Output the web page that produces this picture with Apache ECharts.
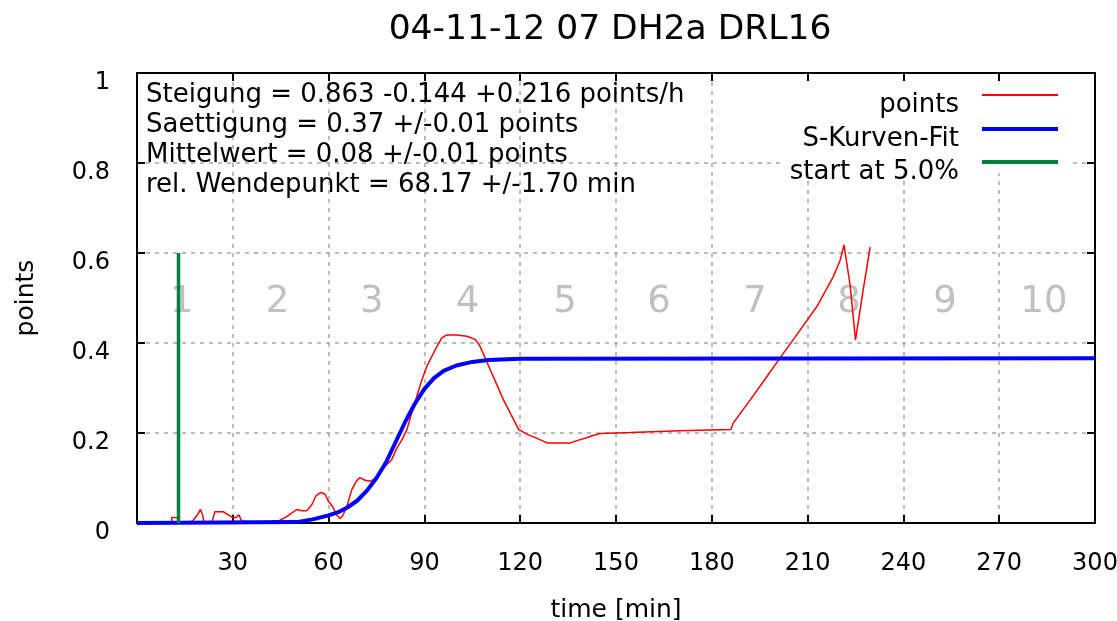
<!DOCTYPE html>
<html>
<head>
<meta charset="utf-8">
<script src="https://cdn.jsdelivr.net/npm/echarts@6/dist/echarts.min.js"></script>
<style>
html,body{margin:0;padding:0;background:#fff;}
#c{width:1117px;height:621px;}
</style>
</head>
<body>
<div id="c"></div>
<script>
// ---- data ----
const pointsT = [0,10.8,10.9,12.5,13.5,17.3,18.7,19.9,20.6,21.0,23.4,24.4,27.0,28.6,30.0,30.9,31.9,32.8,33.3,42.0,42.2,44.5,46.9,50.0,51.6,53.1,54.7,56.1,57.6,58.9,59.9,61.3,62.5,63.6,64.4,65.7,67.2,68.6,69.8,71.4,73.0,74.5,76.0,77.5,79.7,81.4,82.9,84.5,86.0,87.6,89.2,90.7,92.3,93.9,95.4,97.0,100.2,103.3,105.9,107.4,109.0,110.6,112.7,114.8,116.9,118.5,119.5,122.2,125.3,128.4,135.7,137.8,141.0,143.0,145.1,154.5,170.0,186.0,186.7,192.0,197.2,202.0,207.6,212.9,218.0,220.2,221.4,223.3,225.0,227.4,229.6];
const pointsV = [0,0,0.012,0.012,0,0.004,0.016,0.030,0.016,0,0,0.025,0.025,0.018,0.012,0.012,0.018,0.004,0,0,0.005,0.005,0.014,0.030,0.027,0.027,0.040,0.061,0.068,0.064,0.049,0.036,0.018,0.010,0.016,0.036,0.073,0.092,0.101,0.095,0.093,0.098,0.112,0.125,0.140,0.167,0.184,0.207,0.244,0.281,0.318,0.347,0.370,0.392,0.411,0.418,0.418,0.415,0.408,0.393,0.367,0.341,0.307,0.273,0.244,0.222,0.208,0.197,0.188,0.178,0.178,0.183,0.190,0.195,0.199,0.201,0.205,0.208,0.222,0.273,0.325,0.373,0.428,0.481,0.547,0.584,0.618,0.529,0.407,0.518,0.613];
const fitT = [0,50,55,60,63,66,69,72,75,78,81,84,87,90,93,96,100,105,110,120,300];
const fitV = [0,0.002,0.008,0.017,0.024,0.035,0.05,0.072,0.1,0.135,0.18,0.225,0.265,0.298,0.322,0.338,0.35,0.358,0.362,0.365,0.366];
const startT = [13.0,13.0];
const startV = [0,0.6];
const sectorLabels = ['1','2','3','4','5','6','7','8','9','10'];
const sectorX = [14,44,73.5,103.5,134,163.5,193.5,223,253,284];
const sectorY = 0.5;
const seriesNames = ['points','S-Kurven-Fit','start at 5.0%'];
const annotations = [
  'Steigung = 0.863 -0.144 +0.216 points/h',
  'Saettigung = 0.37 +/-0.01 points',
  'Mittelwert = 0.08 +/-0.01 points',
  'rel. Wendepunkt = 68.17 +/-1.70 min'
];
const titleText = '04-11-12 07 DH2a DRL16';
const xName = 'time [min]';
const yName = 'points';

const FONT = 'DejaVu Sans';
const zip = (a, b) => a.map((x, i) => [x, b[i]]);

const chart = echarts.init(document.getElementById('c'), null, {renderer: 'canvas'});

const gridLine = {show: true, lineStyle: {color: '#a5a5a5', width: 1.5, type: [4, 5]}};
const axisLine = {show: true, onZero: false, lineStyle: {color: '#000', width: 2}};
const axisTick = {show: true, inside: true, length: 8, lineStyle: {color: '#000', width: 2}};

function legendFor(i, top, h) {
  return {
    data: [seriesNames[i]],
    orient: 'vertical',
    align: 'right',
    right: 59,
    top: top,
    padding: 0,
    itemWidth: 76,
    itemHeight: h,
    icon: 'rect',
    selectedMode: false,
    z: 10,
    // empty first line pushes the label a little below the key line, as in the original
    formatter: name => '\n' + name,
    textStyle: {fontFamily: FONT, fontSize: 26, color: '#000', lineHeight: 20, padding: [0, 18, 0, 0]}
  };
}

const option = {
  animation: false,
  backgroundColor: '#fff',
  title: {
    text: titleText,
    left: 610,
    textAlign: 'center',
    top: 13,
    padding: 0,
    textStyle: {fontFamily: FONT, fontSize: 34.5, fontWeight: 'normal', color: '#000'}
  },
  legend: [legendFor(0, 72, 2), legendFor(1, 106, 4), legendFor(2, 139, 4)],
  grid: {left: 137, right: 22, top: 73, bottom: 98, containLabel: false, outerBoundsMode: 'none'},
  xAxis: [{
    type: 'value', min: 0, max: 300, interval: 30, position: 'bottom',
    axisLine: axisLine, axisTick: axisTick,
    axisLabel: {fontFamily: FONT, fontSize: 24, color: '#000', margin: 29, showMinLabel: false},
    splitLine: gridLine,
    name: xName, nameLocation: 'middle', nameGap: 75,
    nameTextStyle: {fontFamily: FONT, fontSize: 25, color: '#000'}
  }, {
    type: 'value', min: 0, max: 300, interval: 30, position: 'top',
    axisLine: axisLine, axisTick: axisTick, axisLabel: {show: false}, splitLine: {show: false}
  }],
  yAxis: [{
    type: 'value', min: 0, max: 1, interval: 0.2, position: 'left',
    axisLine: axisLine, axisTick: axisTick,
    axisLabel: {fontFamily: FONT, fontSize: 24, color: '#000', margin: 27, verticalAlign: 'top', lineHeight: 20},
    splitLine: gridLine,
    name: yName, nameLocation: 'middle', nameGap: 98, nameRotate: 90,
    nameTextStyle: {fontFamily: FONT, fontSize: 25, color: '#000'}
  }, {
    type: 'value', min: 0, max: 1, interval: 0.2, position: 'right',
    axisLine: axisLine, axisTick: axisTick, axisLabel: {show: false}, splitLine: {show: false}
  }],
  graphic: {
    elements: [
      {type: 'rect', z: 3, silent: true, shape: {x: 785, y: 82, width: 287, height: 91}, style: {fill: '#fff'}}
    ].concat(annotations.map((t, i) => ({
      type: 'text', z: 6, silent: true,
      style: {text: t, x: 146, y: 95 + 30 * i, fill: '#000', font: '26px "' + FONT + '"', verticalAlign: 'middle', align: 'left'}
    })))
  },
  series: [
    {
      type: 'scatter', name: 'sectors', silent: true, z: 1,
      symbolSize: 0,
      data: sectorX.map((x, i) => ({value: [x, sectorY], name: sectorLabels[i]})),
      label: {show: true, position: 'inside', offset: [0, 4], formatter: p => p.name, fontFamily: FONT, fontSize: 37, color: '#b0b0b0'}
    },
    {
      type: 'line', name: seriesNames[0], z: 2, showSymbol: false, symbol: 'none',
      data: zip(pointsT, pointsV),
      lineStyle: {color: '#ff0000', width: 1.5}, itemStyle: {color: '#ff0000'}
    },
    {
      type: 'line', name: seriesNames[1], z: 3, showSymbol: false, symbol: 'none',
      data: zip(fitT, fitV),
      lineStyle: {color: '#0000ff', width: 4}, itemStyle: {color: '#0000ff'}
    },
    {
      type: 'line', name: seriesNames[2], z: 4, showSymbol: false, symbol: 'none',
      data: zip(startT, startV),
      lineStyle: {color: '#007f3f', width: 3.5}, itemStyle: {color: '#007f3f'}
    }
  ]
};
chart.setOption(option);
</script>
</body>
</html>
